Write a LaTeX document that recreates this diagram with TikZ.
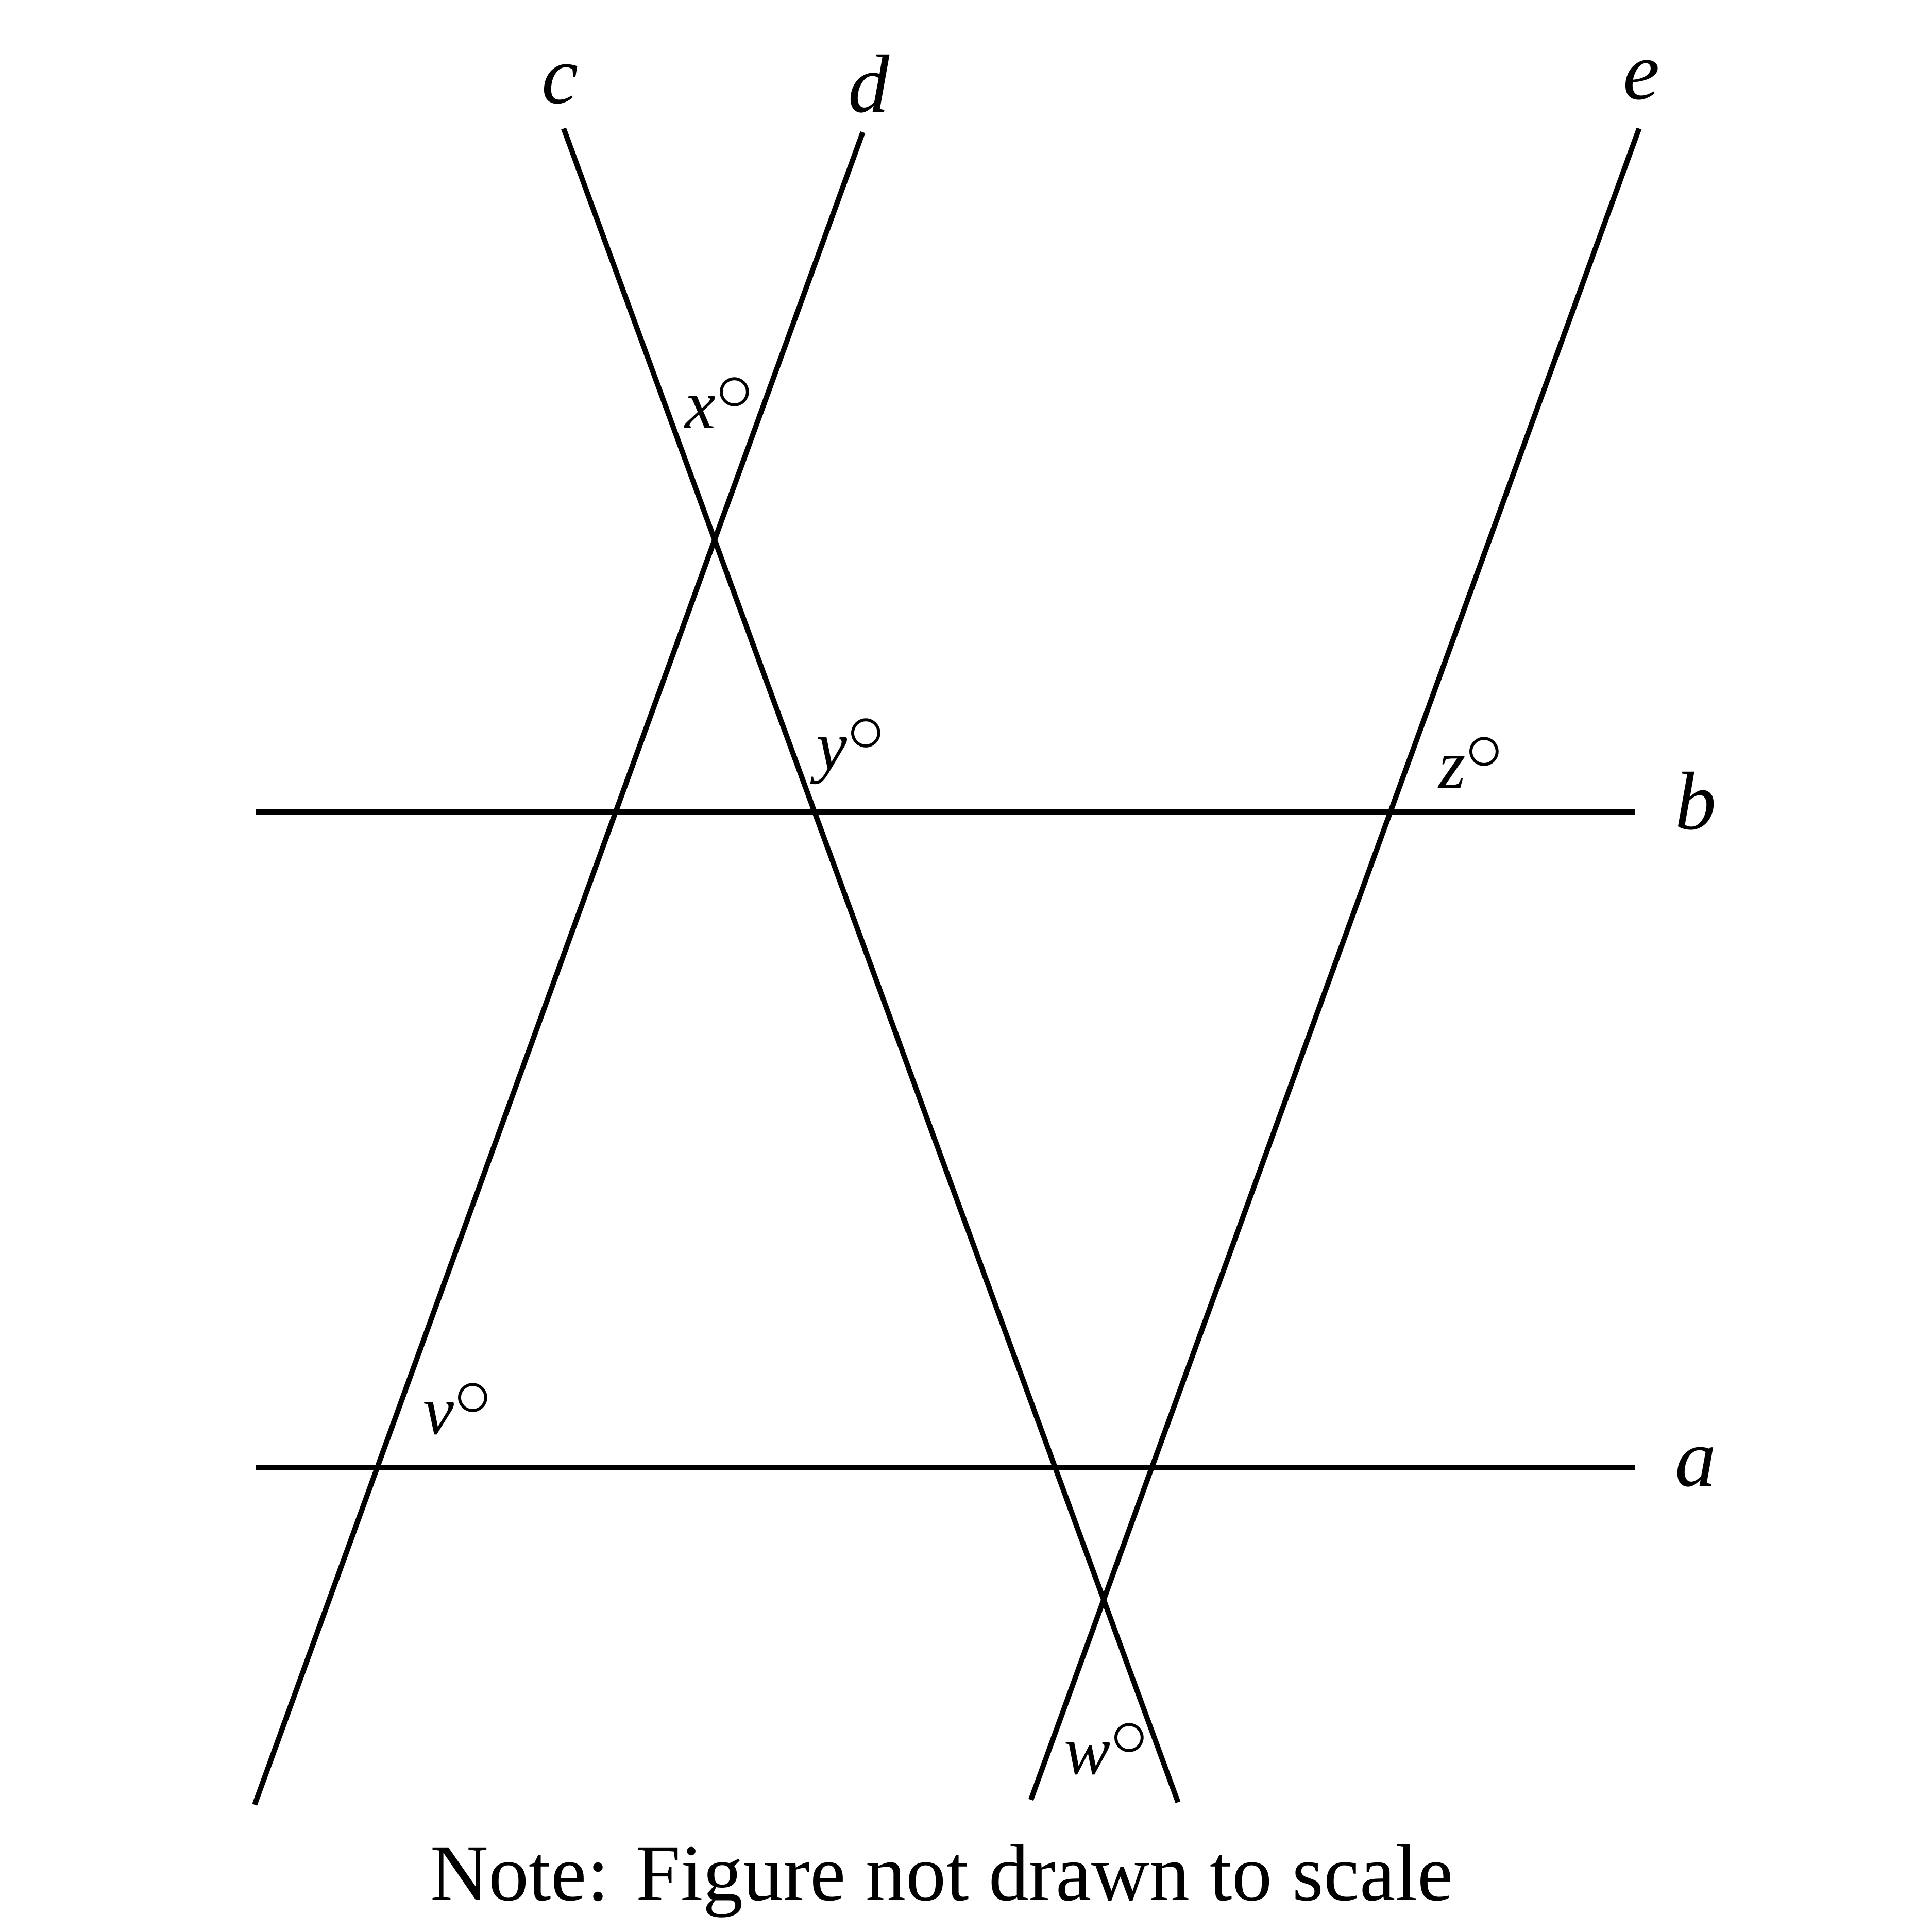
\documentclass[tikz,border=0pt]{standalone}
\usepackage{fontspec}
\setmainfont{Liberation Serif}
\newcommand{\dg}{\raisebox{0.55ex}{$\circ$}}
\begin{document}
\begin{tikzpicture}[x=0.01cm,y=-0.01cm,
  ln/.style={line width=1.2pt},
  lab/.style={font=\fontsize{19}{22}\selectfont\itshape,inner sep=0pt},
  ang/.style={font=\fontsize{16}{20}\selectfont,inner sep=0pt}]
\useasboundingbox (0,0) rectangle (1563,1563);
\coordinate (c1) at (456,104); \coordinate (c2) at (953,1458);
\coordinate (d1) at (698,107); \coordinate (d2) at (206,1460);
\coordinate (e1) at (1326,104); \coordinate (e2) at (834,1456);
\coordinate (b1) at (207,657); \coordinate (b2) at (1323,657);
\coordinate (a1) at (207,1187); \coordinate (a2) at (1323,1187);
\draw[ln] (c1)--(c2); \draw[ln] (d1)--(d2); \draw[ln] (e1)--(e2);
\draw[ln] (b1)--(b2); \draw[ln] (a1)--(a2);
\node[lab] (lc) at (453,68) {c};
\node[lab] (ld) at (703,68) {d};
\node[lab] (le) at (1328,65) {e};
\node[lab] (lb) at (1372,648) {b};
\node[lab] (la) at (1372,1187) {a};
\node[ang] (x) at (582,326) {\textit{x}\dg};
\node[ang] (y) at (688,608) {\textit{y}\dg};
\node[ang] (z) at (1190,617) {\textit{z}\dg};
\node[ang] (v) at (370,1140) {\textit{v}\dg};
\node[ang] (w) at (895,1415) {\textit{w}\dg};
\node[font=\fontsize{18.5}{22}\selectfont,inner sep=0pt] (note) at (762,1522) {Note: Figure not drawn to scale};
\end{tikzpicture}
\end{document}
